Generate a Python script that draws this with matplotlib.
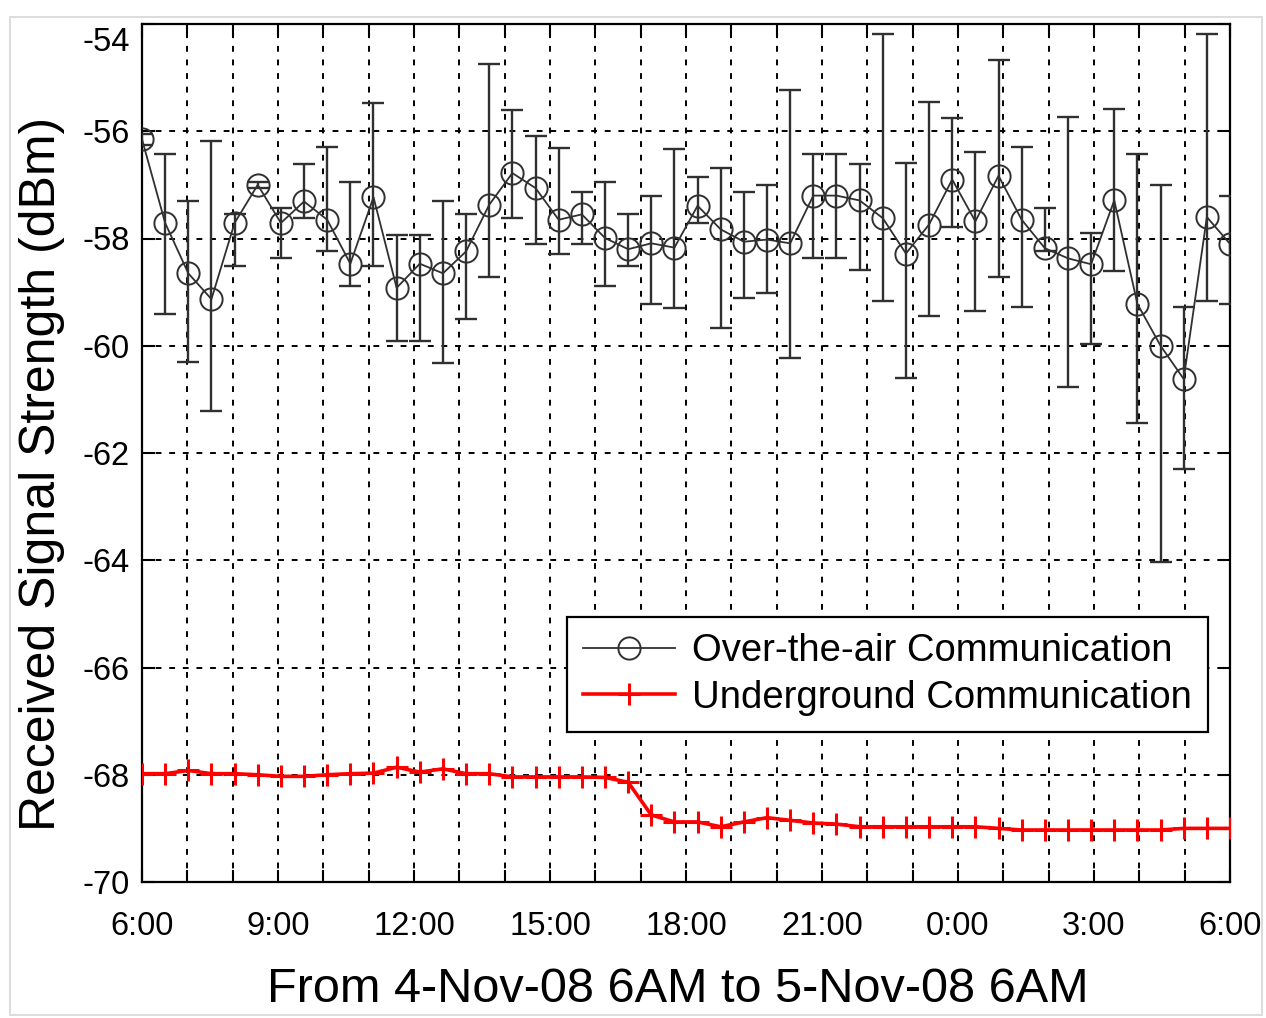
import numpy as np
import matplotlib
matplotlib.use("Agg")
import matplotlib.pyplot as plt
from matplotlib.patches import Rectangle
import matplotlib.transforms as mtransforms

plt.rcParams['font.family'] = ['Liberation Sans', 'DejaVu Sans']

# ---------------- data ----------------
hours = np.linspace(0, 24, 48)          # hours after 4-Nov-08 6AM
tick_hours = list(range(0, 25))
tick_labels = ['6:00', '', '', '9:00', '', '', '12:00', '', '', '15:00', '', '', '18:00',
               '', '', '21:00', '', '', '0:00', '', '', '3:00', '', '', '6:00']

air_mean = [-56.15, -57.71, -58.65, -59.13, -57.71, -57.00, -57.71, -57.31, -57.65, -58.47,
            -57.23, -58.92, -58.47, -58.65, -58.24, -57.37, -56.78, -57.06, -57.65, -57.55,
            -57.99, -58.20, -58.09, -58.17, -57.39, -57.83, -58.06, -58.02, -58.09, -57.20,
            -57.20, -57.29, -57.62, -58.28, -57.74, -56.90, -57.68, -56.83, -57.65, -58.18,
            -58.37, -58.48, -57.29, -59.22, -60.00, -60.62, -57.60, -58.10]
air_upper = [-56.05, -56.42, -57.30, -56.18, -57.55, -56.95, -57.44, -56.62, -56.29, -56.94,
             -55.48, -57.93, -57.93, -57.30, -57.55, -54.74, -55.60, -56.08, -56.32, -57.14,
             -56.94, -57.55, -57.20, -56.33, -56.85, -56.69, -57.13, -57.01, -55.23, -56.43,
             -56.43, -56.62, -54.18, -56.60, -55.45, -55.76, -56.38, -54.67, -56.29, -57.44,
             -55.73, -57.90, -55.58, -56.43, -57.01, -59.28, -54.18, -57.20]
air_lower = [-56.25, -59.41, -60.30, -61.22, -58.52, -57.05, -58.37, -57.62, -58.24, -58.89,
             -58.52, -59.92, -59.92, -60.33, -59.50, -58.71, -57.62, -58.10, -58.28, -58.10,
             -58.89, -58.52, -59.22, -59.30, -57.71, -59.67, -59.11, -59.02, -60.23, -58.37,
             -58.37, -58.58, -59.16, -60.60, -59.45, -57.78, -59.36, -58.71, -59.27, -58.24,
             -60.77, -59.97, -58.61, -61.44, -64.04, -62.30, -59.16, -59.22]

ug_mean = [-67.98, -67.98, -67.92, -67.98, -67.98, -68.00, -68.03, -68.03, -68.00, -67.98,
           -67.97, -67.86, -67.95, -67.89, -67.98, -67.98, -68.04, -68.04, -68.04, -68.04,
           -68.05, -68.14, -68.75, -68.88, -68.88, -68.97, -68.88, -68.80, -68.85, -68.90,
           -68.92, -68.97, -68.97, -68.97, -68.97, -68.97, -68.97, -69.00, -69.03, -69.03,
           -69.03, -69.03, -69.03, -69.03, -69.03, -69.00, -69.00, -69.00]

# ---------------- figure ----------------
fig = plt.figure(figsize=(12.66, 10.18), dpi=100)
fig.patches.append(Rectangle((10 / 1266, 3 / 1018), 1252 / 1266, 998 / 1018,
                             transform=fig.transFigure, fill=False,
                             edgecolor='#d6d6d6', linewidth=1.2))
ax = fig.add_axes([142 / 1266, 1 - 882 / 1018, 1088 / 1266, 858 / 1018])

air = np.array(air_mean)
yerr = [air - np.array(air_lower), np.array(air_upper) - air]
ax.errorbar(hours, air, yerr=yerr, fmt='none', ecolor='#303030', elinewidth=1.7,
            capsize=8, capthick=1.7, zorder=3)
ax.plot(hours, air, color='#303030', linewidth=1.3, marker='o', markersize=16,
        markerfacecolor='none', markeredgecolor='#303030', markeredgewidth=1.4,
        label='Over-the-air Communication', zorder=4)
ax.plot(hours, ug_mean, color='red', linewidth=2.6, marker='+', markersize=16,
        markeredgewidth=2.2, label='Underground Communication', zorder=4)

ax.set_xlim(0, 24)
ax.set_ylim(-70, -54)
ax.set_xticks(tick_hours)
ax.set_xticklabels(tick_labels)
ax.set_yticks(np.arange(-70, -53, 2))
ax.set_yticklabels([str(v) for v in range(-70, -53, 2)])

ax.grid(True, color='black', linestyle=(0, (3, 4)), linewidth=1.4)
ax.tick_params(axis='both', direction='in', length=9, width=1.5, top=True, right=True,
               labelsize=23.5, colors='black')
ax.tick_params(axis='x', pad=21)
ax.tick_params(axis='y', pad=9)
for s in ax.spines.values():
    s.set_linewidth(1.6)
    s.set_color('black')

# the top y label sits a little lower in the original
top_lab = ax.get_yticklabels()[-1]
top_lab.set_transform(top_lab.get_transform() +
                      mtransforms.ScaledTranslation(0, -15 / 100, fig.dpi_scale_trans))

ax.set_ylabel('Received Signal Strength (dBm)', fontsize=36)
ax.yaxis.set_label_coords(-0.071, 0.476)
ax.set_xlabel('From 4-Nov-08 6AM to 5-Nov-08 6AM', fontsize=35)
ax.xaxis.set_label_coords(0.4926, -0.099)

leg = ax.legend(loc='upper right', bbox_to_anchor=(0.98, 0.309), fontsize=27.5,
                frameon=True, fancybox=False, edgecolor='black', framealpha=1,
                borderaxespad=0, handlelength=2.4, handletextpad=0.45,
                labelspacing=0.28, borderpad=0.42)
leg.get_frame().set_linewidth(1.6)

fig.savefig('out.png', dpi=100)
